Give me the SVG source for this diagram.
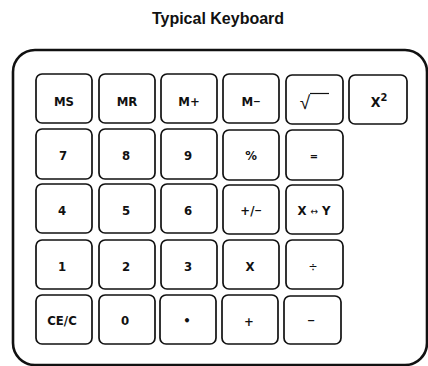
<svg xmlns="http://www.w3.org/2000/svg" width="428" height="366" viewBox="0 0 428 366">
<style>
.frame{fill:none;stroke:#111;stroke-width:2.6}
.key rect{fill:#fff;stroke:#111;stroke-width:1.7}
.lbl{font-family:"DejaVu Sans Condensed","Liberation Sans",Arial,sans-serif;font-stretch:condensed;font-weight:bold;font-size:13px;fill:#111;text-anchor:middle}
.title{font-family:"Liberation Sans",Arial,sans-serif;font-weight:bold;font-size:16px;fill:#111;text-anchor:middle}
</style>
<rect width="428" height="366" fill="#fff"/>
<text class="title" x="218" y="24">Typical Keyboard</text>
<rect class="frame" x="13" y="50" width="414" height="315" rx="22"/>
<g id="k-ms" class="key"><rect x="36" y="74" width="56" height="49" rx="6"/><text class="lbl" x="64" y="106">MS</text></g>
<g id="k-mr" class="key"><rect x="99" y="74" width="56" height="49" rx="6"/><text class="lbl" x="127" y="106">MR</text></g>
<g id="k-mplus" class="key"><rect x="161" y="74" width="56" height="49" rx="6"/><text class="lbl" x="189" y="106">M+</text></g>
<g id="k-mminus" class="key"><rect x="223" y="74" width="56" height="49" rx="6"/><text class="lbl" x="251" y="106">M<tspan font-size="16" font-weight="normal" dy="0">–</tspan></text></g>
<g id="k-sqrt" class="key"><rect x="286" y="75" width="57" height="49" rx="6"/><text class="lbl" x="305" y="109" style="font-family:'Liberation Sans',sans-serif;font-weight:normal;font-size:19px">√</text><line x1="310" y1="93.5" x2="329" y2="93.5" stroke="#111" stroke-width="1.2"/></g>
<g id="k-x2" class="key"><rect x="349" y="75" width="58" height="49" rx="6"/><text class="lbl" x="379" y="107" style="font-size:14px">X<tspan dy="-6" font-size="11">2</tspan></text></g>

<g id="k-7" class="key"><rect x="36" y="129" width="56" height="50" rx="6"/><text class="lbl" x="63" y="160">7</text></g>
<g id="k-8" class="key"><rect x="99" y="129" width="56" height="50" rx="6"/><text class="lbl" x="126" y="160">8</text></g>
<g id="k-9" class="key"><rect x="161" y="129" width="56" height="50" rx="6"/><text class="lbl" x="188" y="160">9</text></g>
<g id="k-pct" class="key"><rect x="223" y="130" width="56" height="50" rx="6"/><text class="lbl" x="251" y="160">%</text></g>
<g id="k-eq" class="key"><rect x="286" y="130" width="57" height="50" rx="6"/><text class="lbl" x="314" y="160" style="font-size:11px">=</text></g>

<g id="k-4" class="key"><rect x="36" y="184" width="56" height="49" rx="6"/><text class="lbl" x="62" y="215">4</text></g>
<g id="k-5" class="key"><rect x="99" y="184" width="56" height="49" rx="6"/><text class="lbl" x="126" y="215">5</text></g>
<g id="k-6" class="key"><rect x="161" y="184" width="56" height="49" rx="6"/><text class="lbl" x="188" y="215">6</text></g>
<g id="k-pm" class="key"><rect x="223" y="185" width="56" height="49" rx="6"/><text class="lbl" x="251" y="215">+/<tspan font-size="16" font-weight="normal">–</tspan></text></g>
<g id="k-xy" class="key"><rect x="286" y="185" width="57" height="49" rx="6"/><text class="lbl" x="314" y="215">X <tspan style="font-family:'DejaVu Sans',sans-serif;font-weight:normal;font-size:10px">↔</tspan> Y</text></g>

<g id="k-1" class="key"><rect x="36" y="240" width="56" height="49" rx="6"/><text class="lbl" x="62" y="271">1</text></g>
<g id="k-2" class="key"><rect x="99" y="240" width="56" height="49" rx="6"/><text class="lbl" x="126" y="271">2</text></g>
<g id="k-3" class="key"><rect x="161" y="240" width="56" height="49" rx="6"/><text class="lbl" x="188" y="271">3</text></g>
<g id="k-mul" class="key"><rect x="223" y="240" width="56" height="49" rx="6"/><text class="lbl" x="250" y="271">X</text></g>
<g id="k-div" class="key"><rect x="286" y="240" width="57" height="49" rx="6"/><text class="lbl" x="313" y="271" style="font-weight:normal;font-size:12px">÷</text></g>

<g id="k-cec" class="key"><rect x="36" y="295" width="56" height="49" rx="6"/><text class="lbl" x="62" y="325">CE/C</text></g>
<g id="k-0" class="key"><rect x="99" y="295" width="56" height="49" rx="6"/><text class="lbl" x="125" y="325">0</text></g>
<g id="k-dot" class="key"><rect x="160" y="295" width="56" height="49" rx="6"/><text class="lbl" x="187" y="325">•</text></g>
<g id="k-plus" class="key"><rect x="222" y="295" width="56" height="49" rx="6"/><text class="lbl" x="249" y="326">+</text></g>
<g id="k-minus" class="key"><rect x="284" y="296" width="57" height="48" rx="6"/><text class="lbl" x="311" y="325" style="font-weight:normal;font-size:17px">–</text></g>
</svg>
